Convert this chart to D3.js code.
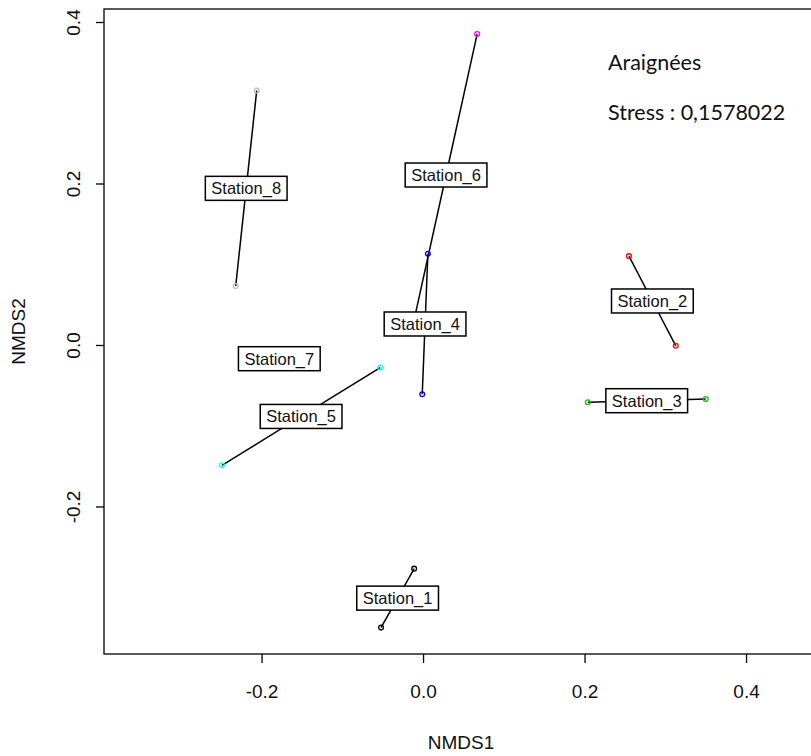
<!DOCTYPE html>
<html>
<head>
    <meta charset="UTF-8">
    <title>NMDS Araignées</title>
    <script src="https://d3js.org/d3.v7.min.js"></script>
    <style type="text/css">
        body { margin: 0; background: #fff; }
        svg { display: block; }
    </style>
</head>
<body>
    <script type="text/javascript">
        // Station names and colours (R default palette order)
        var stations = ["Station_1", "Station_2", "Station_3", "Station_4",
                        "Station_5", "Station_6", "Station_7", "Station_8"];
        var stationColors = ["#000000", "#ff0000", "#00cd00", "#0000ff",
                             "#00ffff", "#ff00ff", "#ffff00", "#bebebe"];

        // Site scores, with the station each site belongs to
        var siteStation = [0, 0, 1, 1, 2, 2, 3, 3, 4, 4, 5, 5, 6, 7, 7];
        var nmds1 = [-0.011, -0.052, 0.255, 0.313, 0.204, 0.350, 0.006, -0.001,
                     -0.053, -0.249, 0.067, -0.010, -0.178, -0.206, -0.232];
        var nmds2 = [-0.277, -0.350, 0.110, -0.001, -0.071, -0.067, 0.113, -0.061,
                     -0.028, -0.149, 0.385, 0.036, -0.017, 0.315, 0.073];

        var xTicks = [-0.2, 0.0, 0.2, 0.4];
        var yTicks = [-0.2, 0.0, 0.2, 0.4];
        var annotations = ["Araignées", "Stress : 0,1578022"];

        drawNMDS();

        function drawNMDS() {
            var width = 811, height = 756;
            var m = { left: 104, right: 818, top: 9, bottom: 654 };
            var font = "'Liberation Sans', Arial, sans-serif";
            var fmt = function (d) { return d.toFixed(1); };

            var x = d3.scaleLinear().domain([-0.3951, 0.4891]).range([m.left, m.right]);
            var y = d3.scaleLinear().domain([-0.3827, 0.4161]).range([m.bottom, m.top]);

            var svg = d3.select("body").append("svg")
                .attr("width", width)
                .attr("height", height);

            // Plot frame
            svg.append("rect")
                .attr("x", m.left).attr("y", m.top)
                .attr("width", m.right - m.left).attr("height", m.bottom - m.top)
                .attr("fill", "none").attr("stroke", "#000").attr("stroke-width", 1.3);

            // Axes
            var gx = svg.append("g")
                .attr("transform", "translate(0," + m.bottom + ")")
                .call(d3.axisBottom(x).tickValues(xTicks).tickSize(9).tickSizeOuter(0).tickFormat(fmt));
            gx.select(".domain").remove();
            gx.selectAll("line").attr("stroke", "#000").attr("stroke-width", 1.3);
            gx.selectAll("text")
                .attr("y", 44).attr("dy", 0)
                .attr("fill", "#111")
                .style("font-family", font)
                .style("font-size", "19px");

            var gy = svg.append("g")
                .attr("transform", "translate(" + m.left + ",0)")
                .call(d3.axisLeft(y).tickValues(yTicks).tickSize(8).tickSizeOuter(0).tickFormat(fmt));
            gy.select(".domain").remove();
            gy.selectAll("line").attr("stroke", "#000").attr("stroke-width", 1.3);
            gy.selectAll("text")
                .attr("transform", "rotate(-90)")
                .attr("x", 0).attr("y", -24).attr("dy", 0)
                .attr("text-anchor", "middle")
                .attr("fill", "#111")
                .style("font-family", font)
                .style("font-size", "19px");

            // Axis titles
            svg.append("text")
                .attr("x", (m.left + m.right) / 2).attr("y", 749)
                .attr("text-anchor", "middle")
                .attr("fill", "#111")
                .style("font-family", font)
                .style("font-size", "19px")
                .text("NMDS1");

            svg.append("text")
                .attr("transform", "translate(25," + ((m.top + m.bottom) / 2) + ") rotate(-90)")
                .attr("text-anchor", "middle")
                .attr("fill", "#111")
                .style("font-family", font)
                .style("font-size", "19px")
                .text("NMDS2");

            // Sites table and station centroids
            var sites = nmds1.map(function (d, i) {
                return { x: d, y: nmds2[i], s: siteStation[i] };
            });
            var centroids = stations.map(function (name, k) {
                var members = sites.filter(function (d) { return d.s === k; });
                return {
                    name: name,
                    x: d3.mean(members, function (d) { return d.x; }),
                    y: d3.mean(members, function (d) { return d.y; })
                };
            });

            // Spider lines from centroid to each site
            svg.append("g").selectAll("line")
                .data(sites)
                .enter().append("line")
                .attr("x1", function (d) { return x(centroids[d.s].x); })
                .attr("y1", function (d) { return y(centroids[d.s].y); })
                .attr("x2", function (d) { return x(d.x); })
                .attr("y2", function (d) { return y(d.y); })
                .attr("stroke", "#000")
                .attr("stroke-width", 1.5);

            // Site points
            svg.append("g").selectAll("circle")
                .data(sites)
                .enter().append("circle")
                .attr("cx", function (d) { return x(d.x); })
                .attr("cy", function (d) { return y(d.y); })
                .attr("r", 2.4)
                .attr("fill", "none")
                .attr("stroke", function (d) { return stationColors[d.s]; })
                .attr("stroke-width", 1.3);

            // Boxed station labels at the centroids
            var labels = svg.append("g").selectAll("g")
                .data(centroids)
                .enter().append("g")
                .attr("transform", function (d) {
                    return "translate(" + x(d.x) + "," + y(d.y) + ")";
                });
            labels.append("rect")
                .attr("fill", "#fff")
                .attr("stroke", "#000")
                .attr("stroke-width", 1.5);
            labels.append("text")
                .attr("text-anchor", "middle")
                .attr("y", 6)
                .attr("fill", "#111")
                .style("font-family", font)
                .style("font-size", "16.5px")
                .text(function (d) { return d.name; });
            labels.each(function () {
                var g = d3.select(this);
                var w = g.select("text").node().getComputedTextLength() + 12;
                g.select("rect")
                    .attr("x", -w / 2).attr("y", -12)
                    .attr("width", w).attr("height", 24);
            });

            // Annotation text
            svg.append("g").selectAll("text")
                .data(annotations)
                .enter().append("text")
                .attr("x", 608)
                .attr("y", function (d, i) { return 70 + i * 50; })
                .attr("fill", "#111")
                .style("font-family", "Lato, 'Open Sans', sans-serif")
                .style("font-size", "21.5px")
                .text(function (d) { return d; });
        }
    </script>
</body>
</html>
